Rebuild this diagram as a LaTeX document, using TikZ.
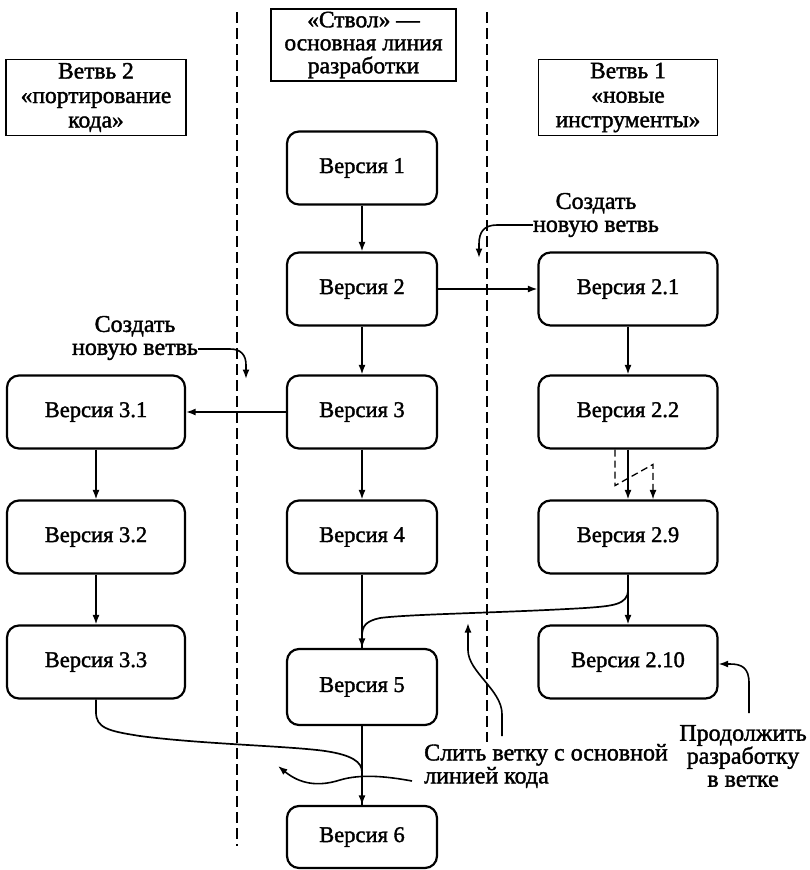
\documentclass[tikz,border=0pt]{standalone}
\usepackage{fontspec}
\setmainfont{Liberation Serif}[FakeBold=1.6]
\usetikzlibrary{arrows.meta}
\begin{document}
\begin{tikzpicture}[x=1pt,y=-1pt,
  ver/.style={draw, line width=2.2pt, rounded corners=12pt, minimum width=150pt,
    minimum height=73pt, inner sep=0pt, font=\fontsize{22.5}{26}\selectfont},
  verside/.style={ver, minimum width=179pt},
  hdr/.style={draw, line width=1.9pt, align=center, inner sep=0pt,
    font=\fontsize{23.5}{24.5}\selectfont},
  note/.style={inner sep=0pt, font=\fontsize{24}{23}\selectfont},
  link/.style={line width=1.6pt, -{Latex[length=9.5pt,width=7pt]}},
  flow/.style={line width=1.7pt},
  lane/.style={line width=1.1pt, dash pattern=on 11pt off 5pt},
  hint/.style={link, line width=1.6pt},
]
\useasboundingbox (0,0) rectangle (810,870);

% lane separators
\coordinate (laneLtop) at (237,12);
\coordinate (laneLbot) at (237,846);
\coordinate (laneRtop) at (487,12);
\coordinate (laneRbot) at (487,742);
\draw[lane] (laneLtop) -- (laneLbot);
\draw[lane] (laneRtop) -- (laneRbot);

% column headers
\node[hdr, minimum width=185pt, minimum height=72pt,
  font=\fontsize{23.5}{23}\selectfont] (trunk) at (363.5,45)
  {«Ствол» —\\основная линия\\разработки};
\node[hdr, minimum width=180pt, minimum height=76pt] (br2) at (96,97.5)
  {Ветвь 2\\«портирование\\кода»};
\node[hdr, minimum width=179pt, minimum height=76pt] (br1) at (628,97.5)
  {Ветвь 1\\«новые\\инструменты»};

% trunk
\node[ver] (v1) at (362,168) {Версия 1};
\node[ver] (v2) at (362,289) {Версия 2};
\node[ver] (v3) at (362,412) {Версия 3};
\node[ver] (v4) at (362,537) {Версия 4};
\node[ver, minimum height=76pt] (v5) at (362,687) {Версия 5};
\node[ver, minimum height=62pt] (v6) at (362,837) {Версия 6};

% branch 1
\node[verside] (v21) at (628,289) {Версия 2.1};
\node[verside] (v22) at (628,412) {Версия 2.2};
\node[verside] (v29) at (628,537) {Версия 2.9};
\node[verside] (v210) at (628,662) {Версия 2.10};

% branch 2
\node[verside, minimum width=178pt] (v31) at (96,412) {Версия 3.1};
\node[verside, minimum width=178pt] (v32) at (96,537) {Версия 3.2};
\node[verside, minimum width=178pt] (v33) at (96,662) {Версия 3.3};

% version links
\draw[link] (v1) -- (v2);
\draw[link] (v2) -- (v3);
\draw[link] (v3) -- (v4);
\draw[link] (v4) -- (v5);
\draw[link] (v5) -- (v6);
\draw[link] (v2) -- (v21);
\draw[link] (v3) -- (v31);
\draw[link] (v21) -- (v22);
\draw[link] (v22) -- (v29);
\draw[link] (v29) -- (v210);
\draw[link] (v31) -- (v32);
\draw[link] (v32) -- (v33);

% skipped intermediate versions
\draw[link, line width=1.3pt, dash pattern=on 7pt off 4pt]
  ([xshift=-13pt]v22.south) -- ++(0,36) -- ([xshift=25pt,yshift=35pt]v29.north)
  -- ([xshift=25pt]v29.north);

% merges back into the trunk
\draw[flow] (v29.south) -- (628,590) .. controls (628,605) and (612,606) .. (585,608)
  .. controls (500,613) and (410,614) .. (380,618)
  .. controls (366,621) and (362,626) .. (362,636) -- (v5.north);
\draw[flow] (v33.south) -- (96,712) .. controls (96,728) and (108,731) .. (140,736)
  .. controls (200,744) and (290,746) .. (325,751)
  .. controls (352,755) and (362,762) .. (362,772) -- (v6.north);

% notes
\node[note, align=center] (newR) at (596,215) {Создать\\новую ветвь};
\node[note, align=center] (newL) at (135,338) {Создать\\новую ветвь};
\node[note, align=left, anchor=west] (merge) at (424,766)
  {Слить ветку с основной\\линией кода};
\node[note, align=center] (cont) at (743,756) {Продолжить\\разработку\\в ветке};

\coordinate (forkR) at (479,258);
\coordinate (forkL) at (246,379);
\coordinate (mergeUpTip) at (468,623);
\coordinate (mergeLeftTip) at (278,766);

\draw[hint] ([yshift=-10pt]newR.west) -- (497,225) .. controls (484,225) and (479,232)
  .. (479,244) -- (forkR);
\draw[hint] ([yshift=-11pt]newL.east) -- (230,349) .. controls (241,349) and (246,355)
  .. (246,365) -- (forkL);
\draw[hint] (502,736) -- (502,714) .. controls (502,690) and (468,672) .. (468,650)
  -- (mergeUpTip);
\draw[hint] (412,781) .. controls (385,776) and (360,774) .. (340,780)
  .. controls (318,787) and (300,784) .. (mergeLeftTip);
\draw[hint] (749,713) -- (749,683) .. controls (749,668) and (742,664) .. (730,664)
  -- ([yshift=-2pt]v210.east);
\end{tikzpicture}
\end{document}
